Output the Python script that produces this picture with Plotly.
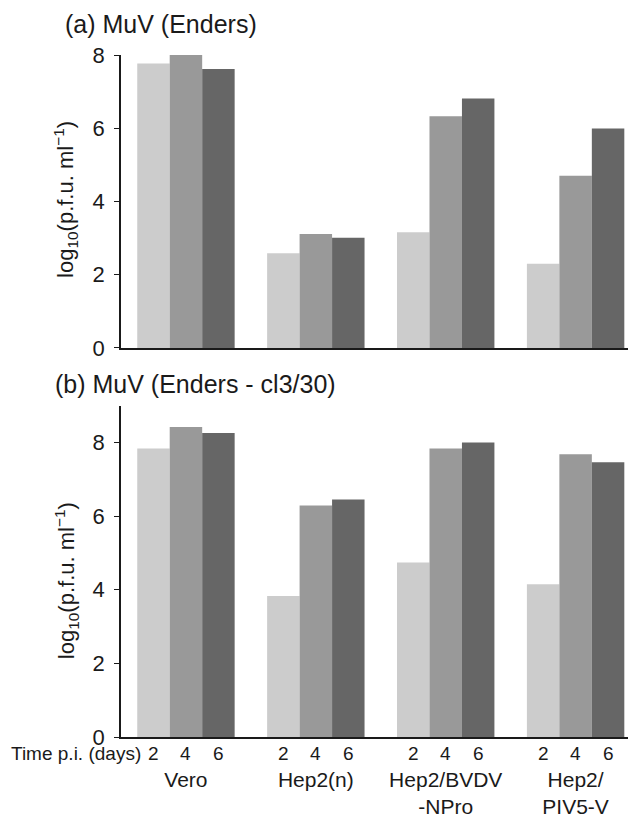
import plotly.graph_objects as go

# ---- data ----
cell_lines = ["Vero", "Hep2(n)", "Hep2/BVDV<br>-NPro", "Hep2/<br>PIV5-V"]
days = ["2", "4", "6"]
panel_a = {  # MuV (Enders)
    "2": [7.77, 2.59, 3.16, 2.30],
    "4": [8.06, 3.11, 6.33, 4.70],
    "6": [7.62, 3.01, 6.81, 5.99],
}
panel_b = {  # MuV (Enders - cl3/30)
    "2": [7.84, 3.83, 4.74, 4.15],
    "4": [8.42, 6.29, 7.84, 7.68],
    "6": [8.26, 6.45, 8.00, 7.46],
}
titles = ["(a) MuV (Enders)", "(b) MuV (Enders - cl3/30)"]
ytitle = "log<sub>10</sub>(p.f.u. ml<sup>−1</sup>)"
time_label = "Time p.i. (days)"

# ---- style ----
colors = {"2": "#cccccc", "4": "#999999", "6": "#666666"}
FONT = "Liberation Sans, Arial, Helvetica, sans-serif"
INK = "#1a1a1a"
BARGAP = 0.25
XRANGE = [-0.5, 3.465]

fig = go.Figure()
for d in days:
    fig.add_trace(go.Bar(x=cell_lines, y=panel_a[d], marker=dict(color=colors[d], line=dict(width=0)),
                         offsetgroup=d, xaxis="x", yaxis="y", showlegend=False))
for d in days:
    fig.add_trace(go.Bar(x=cell_lines, y=panel_b[d], marker=dict(color=colors[d], line=dict(width=0)),
                         offsetgroup=d, xaxis="x2", yaxis="y2", showlegend=False))

yaxis_common = dict(showline=True, linecolor=INK, linewidth=1.5, ticks="outside", ticklen=5,
                    tickwidth=1.3, tickcolor=INK, showgrid=False, zeroline=False, automargin=False,
                    tickfont=dict(size=22, color=INK, family=FONT), ticklabelstandoff=5)

fig.update_layout(
    width=628, height=813,
    margin=dict(l=113, r=0, t=47, b=84, autoexpand=False),
    plot_bgcolor="white", paper_bgcolor="white",
    barmode="group", bargap=BARGAP, bargroupgap=0,
    font=dict(family=FONT, color=INK),
    xaxis=dict(domain=[0, 1], anchor="y", range=XRANGE, showline=True, linecolor=INK, linewidth=1.5,
               ticks="", showticklabels=False, showgrid=False, automargin=False),
    yaxis=dict(domain=[0.5704, 1], anchor="x", range=[0, 8], tickvals=[0, 2, 4, 6, 8], **yaxis_common),
    xaxis2=dict(domain=[0, 1], anchor="y2", range=XRANGE, showline=True, linecolor=INK, linewidth=1.5,
                ticks="", showgrid=False, automargin=False,
                tickfont=dict(size=21, color=INK, family=FONT), ticklabelstandoff=23),
    yaxis2=dict(domain=[0, 0.4858], anchor="x2", range=[0, 9.0], tickvals=[0, 2, 4, 6, 8], **yaxis_common),
)

ann = [
    dict(text=titles[0], xref="paper", yref="paper", x=-0.1126, y=1.0455, xanchor="left", yanchor="middle",
         showarrow=False, font=dict(size=25, color=INK, family=FONT)),
    dict(text=titles[1], xref="paper", yref="paper", x=-0.132, y=0.5176, xanchor="left", yanchor="middle",
         showarrow=False, font=dict(size=25, color=INK, family=FONT)),
    dict(text=ytitle, xref="paper", yref="paper", x=-0.1068, y=0.789, xanchor="center", yanchor="middle",
         textangle=-90, showarrow=False, font=dict(size=22, color=INK, family=FONT)),
    dict(text=ytitle, xref="paper", yref="paper", x=-0.1068, y=0.230, xanchor="center", yanchor="middle",
         textangle=-90, showarrow=False, font=dict(size=22, color=INK, family=FONT)),
    dict(text=time_label, xref="paper", yref="paper", x=0.0427, y=-0.0245, xanchor="right", yanchor="middle",
         showarrow=False, font=dict(size=19, color=INK, family=FONT)),
]
# day labels under each bar (category index + bar offset on the x2 axis)
bar_w = (1 - BARGAP) / len(days)
for i in range(len(cell_lines)):
    for j, d in enumerate(days):
        ann.append(dict(text=d, xref="x2", yref="paper", x=i + (j - (len(days) - 1) / 2) * bar_w,
                        y=-0.0245, xanchor="center", yanchor="middle", showarrow=False,
                        font=dict(size=19, color=INK, family=FONT)))
fig.update_layout(annotations=ann)

fig.write_html("out.html")
